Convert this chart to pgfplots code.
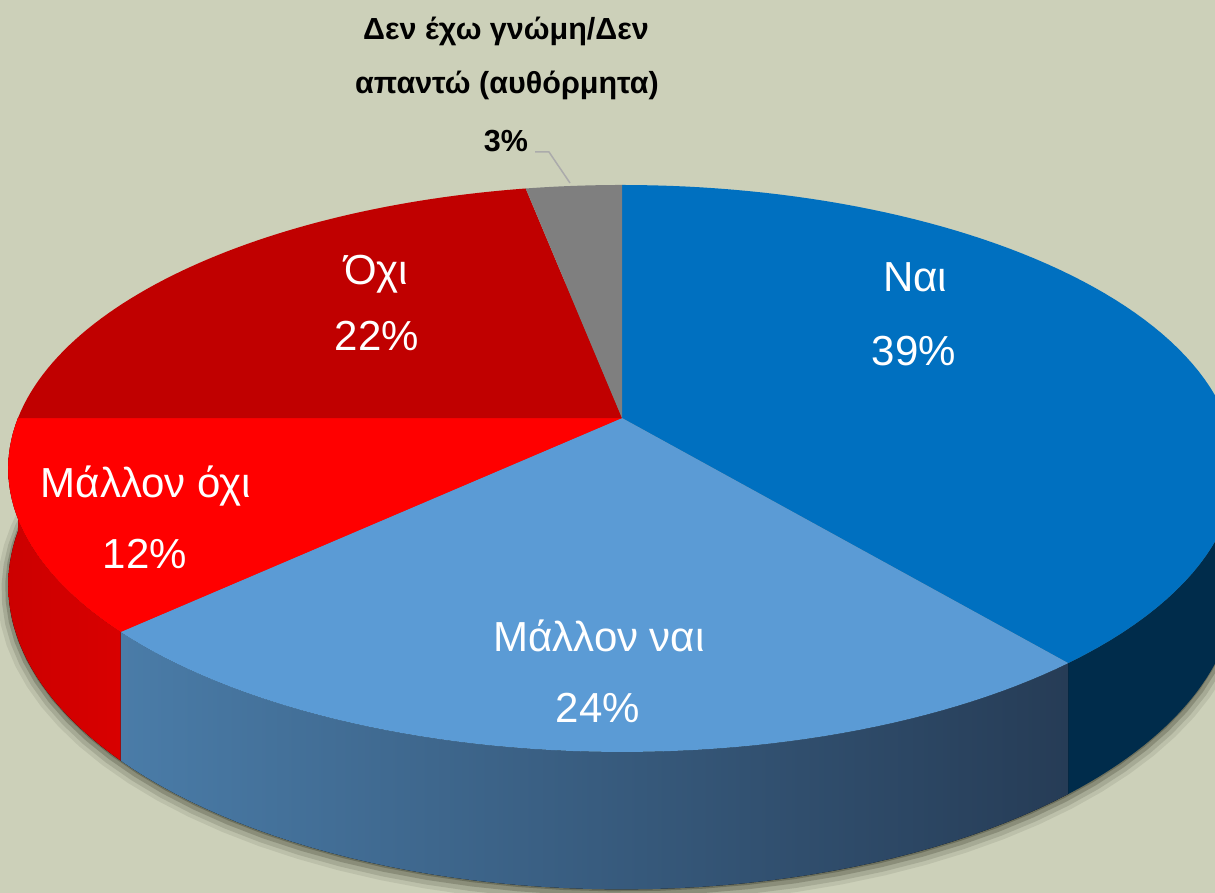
\documentclass[border=0pt]{standalone}
\usepackage{fontspec}
\setmainfont{Liberation Sans}
\usepackage{pgfplots}
\usepackage{pgfplotstable}
\pgfplotsset{compat=1.18}

\definecolor{bg}{RGB}{204,208,185}
\definecolor{nai}{RGB}{0,112,192}
\definecolor{naiside}{RGB}{0,44,75}
\definecolor{mnai}{RGB}{91,155,213}
\definecolor{mnaiL}{RGB}{74,124,168}
\definecolor{mnaiR}{RGB}{38,60,86}
\definecolor{moxi}{RGB}{255,0,0}
\definecolor{moxiL}{RGB}{204,0,0}
\definecolor{moxiR}{RGB}{216,0,0}
\definecolor{oxi}{RGB}{192,0,0}
\definecolor{dk}{RGB}{127,127,127}
\definecolor{shadow}{RGB}{55,58,40}

% shares in percent, clockwise from 12 o'clock
\pgfplotstableread{
pct
39
24
12
22
3
}\piedata

\pgfplotstablegetelem{0}{pct}\of\piedata\let\pA\pgfplotsretval
\pgfplotstablegetelem{1}{pct}\of\piedata\let\pB\pgfplotsretval
\pgfplotstablegetelem{2}{pct}\of\piedata\let\pC\pgfplotsretval
\pgfplotstablegetelem{3}{pct}\of\piedata\let\pD\pgfplotsretval
\pgfplotstablegetelem{4}{pct}\of\piedata\let\pE\pgfplotsretval
\pgfmathsetmacro\aA{90-3.6*\pA}
\pgfmathsetmacro\aB{\aA-3.6*\pB}
\pgfmathsetmacro\aC{\aB-3.6*\pC}
\pgfmathsetmacro\aD{\aC-3.6*\pD}
\pgfmathsetmacro\aE{\aD-3.6*\pE}

% perspective view of the pie: top rim and bottom rim
\pgfmathdeclarefunction{px}{1}{\pgfmathparse{622+604*cos(#1)/(1+0.178*sin(#1))}}
\pgfmathdeclarefunction{py}{1}{\pgfmathparse{418-274.5*sin(#1)/(1+0.178*sin(#1))}}
\pgfmathdeclarefunction{pyb}{1}{\pgfmathparse{418+(113-274.5*sin(#1))/(1+0.178*sin(#1))}}

\begin{document}
\begin{tikzpicture}
\begin{axis}[
    width=1215pt, height=893pt, scale only axis,
    xmin=0, xmax=1215, ymin=0, ymax=893,
    y dir=reverse,
    hide axis,
]
\fill[bg] (-20,-20) rectangle (1260,920);

% soft shadow under the body (scaled copies of the bottom rim)
\fill[shadow, opacity=0.10] plot[domain=0:360, samples=100, variable=\t] ({622+1.018*(px(\t)-622)},{520+1.03*(pyb(\t)-520)+4}) -- cycle;
\fill[shadow, opacity=0.16] plot[domain=0:360, samples=100, variable=\t] ({622+1.011*(px(\t)-622)},{520+1.019*(pyb(\t)-520)+4}) -- cycle;
\fill[shadow, opacity=0.25] plot[domain=0:360, samples=100, variable=\t] ({622+1.005*(px(\t)-622)},{520+1.009*(pyb(\t)-520)+3}) -- cycle;
\fill[shadow, opacity=0.35] plot[domain=0:360, samples=100, variable=\t] ({px(\t)},{pyb(\t)+2}) -- cycle;

% sides
\fill[naiside] plot[domain=\aA:0, samples=40, variable=\t] ({px(\t)},{py(\t)})
  -- plot[domain=0:\aA, samples=40, variable=\t] ({px(\t)},{pyb(\t)}) -- cycle;
\fill[left color=mnaiL, right color=mnaiR] plot[domain=\aB:\aA, samples=50, variable=\t] ({px(\t)},{py(\t)})
  -- plot[domain=\aA:\aB, samples=50, variable=\t] ({px(\t)},{pyb(\t)}) -- cycle;
\fill[left color=moxiL, right color=moxiR] plot[domain=\aC:\aB, samples=30, variable=\t] ({px(\t)},{py(\t)})
  -- plot[domain=\aB:\aC, samples=30, variable=\t] ({px(\t)},{pyb(\t)}) -- cycle;

% top faces
\fill[nai] (622,418) -- plot[domain=90:\aA, samples=80, variable=\t] ({px(\t)},{py(\t)}) -- cycle;
\fill[mnai] (622,418) -- plot[domain=\aA:\aB, samples=60, variable=\t] ({px(\t)},{py(\t)}) -- cycle;
\fill[moxi] (622,418) -- plot[domain=\aB:\aC, samples=40, variable=\t] ({px(\t)},{py(\t)}) -- cycle;
\fill[oxi] (622,418) -- plot[domain=\aC:\aD, samples=60, variable=\t] ({px(\t)},{py(\t)}) -- cycle;
\fill[dk] (622,418) -- plot[domain=\aD:\aE, samples=15, variable=\t] ({px(\t)},{py(\t)}) -- cycle;

% labels
\node[anchor=base, white, font=\fontsize{42}{50}\selectfont] at (915,291) {Ναι};
\node[anchor=base, white, font=\fontsize{42}{50}\selectfont] at (914,365) {\pA\%};
\node[anchor=base, white, font=\fontsize{42}{50}\selectfont] at (599,651) {Μάλλον ναι};
\node[anchor=base, white, font=\fontsize{42}{50}\selectfont] at (598,722) {\pB\%};
\node[anchor=base, white, font=\fontsize{42}{50}\selectfont] at (146,497) {Μάλλον όχι};
\node[anchor=base, white, font=\fontsize{42}{50}\selectfont] at (145,568) {\pC\%};
\node[anchor=base, white, font=\fontsize{42}{50}\selectfont] at (376,285) {Όχι};
\node[anchor=base, white, font=\fontsize{42}{50}\selectfont] at (377,350) {\pD\%};
\node[anchor=base, black, font=\bfseries\fontsize{30.5}{36}\selectfont] at (506,40) {Δεν έχω γνώμη/Δεν};
\node[anchor=base, black, font=\bfseries\fontsize{30.5}{36}\selectfont] at (507,94) {απαντώ (αυθόρμητα)};
\node[anchor=base, black, font=\bfseries\fontsize{30.5}{36}\selectfont] at (506,152) {\pE\%};
\draw[black!33, line width=1.5pt] (535,152) -- (549,152) -- (570,183);
\end{axis}
\pgfresetboundingbox
\useasboundingbox (current axis.south west) rectangle (current axis.north east);
\end{tikzpicture}
\end{document}
